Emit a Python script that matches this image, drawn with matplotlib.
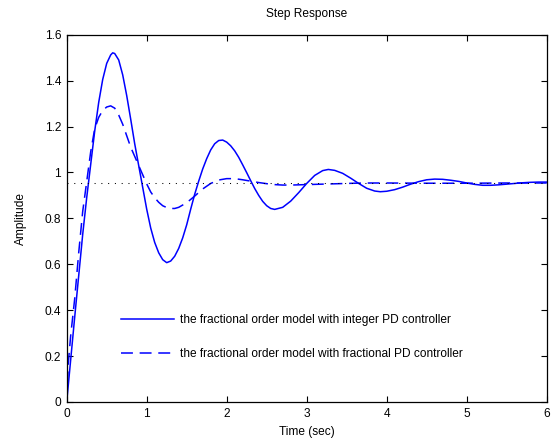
import matplotlib
matplotlib.use("Agg")
import matplotlib.pyplot as plt

plt.rcParams['font.family'] = ['Liberation Sans', 'DejaVu Sans']

# integer PD controller (solid)
t_int = [0.00, 0.05, 0.10, 0.15, 0.20, 0.25, 0.30, 0.35, 0.40, 0.45,
         0.50, 0.55, 0.575, 0.60, 0.65, 0.70, 0.75, 0.80, 0.85, 0.90, 0.95,
         1.00, 1.05, 1.10, 1.15, 1.20, 1.25, 1.30, 1.35, 1.40, 1.45,
         1.50, 1.55, 1.60, 1.65, 1.70, 1.75, 1.80, 1.85, 1.90, 1.95,
         2.00, 2.05, 2.10, 2.15, 2.20, 2.25, 2.30, 2.35, 2.40, 2.45,
         2.50, 2.55, 2.60, 2.70, 2.80, 2.90, 3.00, 3.10, 3.20, 3.27,
         3.35, 3.45, 3.55, 3.65, 3.75, 3.85, 3.92, 4.00, 4.10, 4.20,
         4.30, 4.40, 4.50, 4.60, 4.70, 4.80, 4.90, 5.00, 5.10, 5.20,
         5.30, 5.40, 5.50, 5.60, 5.70, 5.80, 5.90, 6.00]
y_int = [0.000, 0.185, 0.370, 0.550, 0.730, 0.890, 1.035, 1.180, 1.305, 1.405,
         1.475, 1.512, 1.521, 1.518, 1.490, 1.425, 1.335, 1.232, 1.125, 1.030, 0.935,
         0.840, 0.758, 0.695, 0.650, 0.620, 0.607, 0.614, 0.635, 0.669, 0.715,
         0.772, 0.840, 0.905, 0.962, 1.015, 1.060, 1.098, 1.125, 1.139, 1.141,
         1.132, 1.116, 1.094, 1.066, 1.033, 0.999, 0.964, 0.930, 0.900, 0.874,
         0.855, 0.843, 0.839, 0.848, 0.875, 0.912, 0.952, 0.987, 1.008, 1.013,
         1.009, 0.996, 0.975, 0.952, 0.931, 0.919, 0.916, 0.918, 0.925, 0.936,
         0.949, 0.960, 0.968, 0.971, 0.970, 0.966, 0.961, 0.954, 0.948, 0.944,
         0.944, 0.946, 0.949, 0.952, 0.955, 0.957, 0.958, 0.958]

# fractional PD controller (dashed)
t_frac = [0.00, 0.02, 0.05, 0.10, 0.15, 0.20, 0.25, 0.30, 0.35, 0.40,
          0.45, 0.50, 0.55, 0.60, 0.65, 0.70, 0.75, 0.80, 0.85, 0.90,
          0.95, 1.00, 1.05, 1.10, 1.15, 1.20, 1.25, 1.30, 1.35, 1.40,
          1.50, 1.60, 1.70, 1.80, 1.90, 2.00, 2.10, 2.20, 2.30, 2.40,
          2.50, 2.60, 2.70, 2.80, 2.90, 3.00, 3.20, 3.40, 3.60, 3.80,
          4.00, 4.50, 5.00, 5.50, 6.00]
y_frac = [0.000, 0.170, 0.290, 0.450, 0.650, 0.830, 0.960, 1.090, 1.190, 1.240,
          1.270, 1.285, 1.290, 1.280, 1.250, 1.210, 1.160, 1.110, 1.070, 1.030,
          0.990, 0.950, 0.915, 0.890, 0.870, 0.855, 0.847, 0.843, 0.843, 0.848,
          0.868, 0.897, 0.928, 0.952, 0.967, 0.973, 0.973, 0.968, 0.962, 0.956,
          0.951, 0.947, 0.945, 0.945, 0.946, 0.947, 0.949, 0.951, 0.953, 0.954,
          0.954, 0.953, 0.953, 0.954, 0.954]

final_value = 0.955
labels = ['the fractional order model with integer PD controller',
          'the fractional order model with fractional PD controller']
xticks = [0, 1, 2, 3, 4, 5, 6]
yticks = [0, 0.2, 0.4, 0.6, 0.8, 1.0, 1.2, 1.4, 1.6]
ytick_labels = ['0', '0.2', '0.4', '0.6', '0.8', '1', '1.2', '1.4', '1.6']

fig = plt.figure(figsize=(5.54, 4.42), dpi=100)
ax = fig.add_axes([0.1204, 0.0905, 0.8664, 0.831])

ax.plot(t_int, y_int, color='b', lw=1.1, label=labels[0])
ax.plot(t_frac, y_frac, color='b', lw=1.1, dashes=(7.8, 4.4), label=labels[1])
ax.axhline(final_value, color='k', lw=0.75, linestyle=(0, (1, 5.5)))

ax.set_xlim(0, 6)
ax.set_ylim(0, 1.6)
ax.set_xticks(xticks)
ax.set_yticks(yticks)
ax.set_yticklabels(ytick_labels)
ax.tick_params(direction='in', top=True, right=True, length=4, width=0.8,
               labelsize=8.6, pad=4)
for s in ax.spines.values():
    s.set_linewidth(0.9)

ax.set_title('Step Response', fontsize=8.6, pad=13)
ax.set_xlabel('Time (sec)', fontsize=8.6, labelpad=4.5)
ax.set_ylabel('Amplitude', fontsize=8.6, labelpad=13)

ax.legend(loc='upper left', bbox_to_anchor=(0.091, 0.268), frameon=False,
          fontsize=8.6, handlelength=4.4, handletextpad=0.5, labelspacing=1.85)

fig.savefig('out.png', dpi=100)
